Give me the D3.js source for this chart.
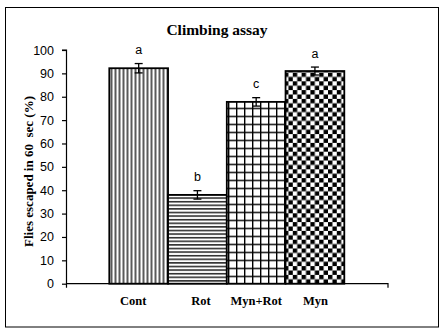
<!DOCTYPE html>
<html><head><meta charset="utf-8">
<script src="https://cdn.jsdelivr.net/npm/d3@7"></script>
<style>body{margin:0;background:#fff}svg{display:block}</style>
</head><body>
<script>
const categories = ["Cont", "Rot", "Myn+Rot", "Myn"];
const values = [92.2, 38.0, 77.8, 91.0];
const errors = [2.0, 1.8, 1.8, 1.7];
const letters = ["a", "b", "c", "a"];
const yTicks = [0, 10, 20, 30, 40, 50, 60, 70, 80, 90, 100];
const patterns = ["vert", "horiz", "grid", "checker"];

const W = 446, H = 336;
const svg = d3.select("body").append("svg").attr("width", W).attr("height", H);
const defs = svg.append("defs");

// patterns
let p = defs.append("pattern").attr("id", "vert").attr("patternUnits", "userSpaceOnUse")
  .attr("width", 4).attr("height", 4).attr("x", 109.5);
p.append("rect").attr("width", 4).attr("height", 4).attr("fill", "#fff");
p.append("line").attr("x1", 2).attr("x2", 2).attr("y1", 0).attr("y2", 4).attr("stroke", "#000").attr("stroke-width", 1.3);

p = defs.append("pattern").attr("id", "horiz").attr("patternUnits", "userSpaceOnUse")
  .attr("width", 4).attr("height", 3.6).attr("y", 283.7);
p.append("rect").attr("width", 4).attr("height", 3.6).attr("fill", "#fff");
p.append("line").attr("x1", 0).attr("x2", 4).attr("y1", 0.8).attr("y2", 0.8).attr("stroke", "#000").attr("stroke-width", 1.3);

p = defs.append("pattern").attr("id", "grid").attr("patternUnits", "userSpaceOnUse")
  .attr("width", 8).attr("height", 8).attr("x", 228).attr("y", 283.7);
p.append("rect").attr("width", 8).attr("height", 8).attr("fill", "#fff");
p.append("line").attr("x1", 0.7).attr("x2", 0.7).attr("y1", 0).attr("y2", 8).attr("stroke", "#000").attr("stroke-width", 1.4);
p.append("line").attr("x1", 0).attr("x2", 8).attr("y1", 0.7).attr("y2", 0.7).attr("stroke", "#000").attr("stroke-width", 1.4);

p = defs.append("pattern").attr("id", "checker").attr("patternUnits", "userSpaceOnUse")
  .attr("width", 8.8).attr("height", 8.8).attr("x", 284).attr("y", 283.7);
p.append("rect").attr("width", 8.8).attr("height", 8.8).attr("fill", "#fff");
p.append("rect").attr("width", 4.4).attr("height", 4.4).attr("fill", "#000");
p.append("rect").attr("x", 4.4).attr("y", 4.4).attr("width", 4.4).attr("height", 4.4).attr("fill", "#000");

// outer border
svg.append("rect").attr("x", 5.5).attr("y", 7.5).attr("width", 433).attr("height", 319.5)
  .attr("fill", "none").attr("stroke", "#000").attr("stroke-width", 1);

// title
svg.append("text").attr("x", 217).attr("y", 35).attr("text-anchor", "middle")
  .attr("font-family", "Liberation Serif, Times New Roman, serif").attr("font-weight", "bold")
  .attr("font-size", 15.5).text("Climbing assay");

const plotL = 66.5, plotR = 388, y0 = 283.7, yTop = 50;
const y = d3.scaleLinear().domain([0, 100]).range([y0, yTop]);
const x = d3.scaleBand().domain(categories).range([109.3, 344.3]).padding(0);

// y axis
const yAxis = svg.append("g").attr("transform", `translate(${plotL},0)`)
  .call(d3.axisLeft(y).tickValues(yTicks).tickSize(4.5).tickPadding(8));
yAxis.select(".domain").attr("stroke-width", 1.2).attr("d", `M-4.5,${yTop}H0V${y0 + 4}`);
yAxis.selectAll(".tick line").attr("stroke-width", 1.2);
yAxis.selectAll(".tick text").attr("font-family", "Liberation Sans, Arial, sans-serif")
  .attr("font-size", 12.5).attr("fill", "#000");

// bars
svg.append("g").selectAll("rect").data(categories).join("rect")
  .attr("x", d => x(d)).attr("y", (d, i) => y(values[i]))
  .attr("width", x.bandwidth()).attr("height", (d, i) => y0 - y(values[i]))
  .attr("fill", (d, i) => `url(#${patterns[i]})`)
  .attr("stroke", "#000").attr("stroke-width", 1.8);

// x axis
svg.append("path").attr("d", `M${plotL},${y0}H${plotR}V${y0 + 4}`)
  .attr("fill", "none").attr("stroke", "#000").attr("stroke-width", 1.2);

// error bars
const eg = svg.append("g").attr("stroke", "#000").attr("stroke-width", 1.3);
categories.forEach((c, i) => {
  const cx = x(c) + x.bandwidth() / 2;
  const t = y(values[i] + errors[i]), b = y(values[i] - errors[i]);
  eg.append("line").attr("x1", cx).attr("x2", cx).attr("y1", t).attr("y2", b);
  eg.append("line").attr("x1", cx - 4).attr("x2", cx + 4).attr("y1", t).attr("y2", t);
  eg.append("line").attr("x1", cx - 4).attr("x2", cx + 4).attr("y1", b).attr("y2", b);
});

// letters
svg.append("g").selectAll("text").data(letters).join("text")
  .attr("x", (d, i) => x(categories[i]) + x.bandwidth() / 2)
  .attr("y", (d, i) => y(values[i] + errors[i]) - 9.5)
  .attr("text-anchor", "middle").attr("font-family", "Liberation Sans, Arial, sans-serif")
  .attr("font-size", 12.5).text(d => d);

// category labels
const labelDx = [-5.5, 3.5, 0, 0.5];
svg.append("g").selectAll("text").data(categories).join("text")
  .attr("x", (d, i) => x(d) + x.bandwidth() / 2 + labelDx[i]).attr("y", 305)
  .attr("text-anchor", "middle").attr("font-family", "Liberation Serif, Times New Roman, serif")
  .attr("font-weight", "bold").attr("font-size", 12.5).text(d => d);

// y label
svg.append("text").attr("transform", "translate(32.5,171.5) rotate(-90)")
  .attr("text-anchor", "middle").attr("font-family", "Liberation Serif, Times New Roman, serif")
  .attr("font-weight", "bold").attr("font-size", 13).attr("xml:space", "preserve")
  .style("white-space", "pre").text("Flies escaped in 60  sec (%)");
</script>
</body></html>
